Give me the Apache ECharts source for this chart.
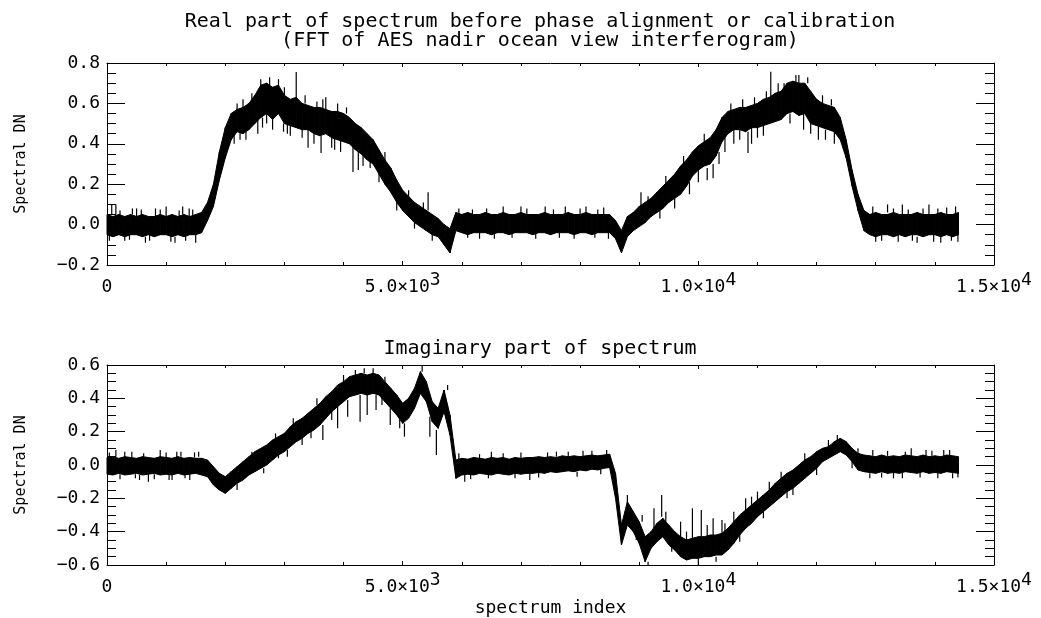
<!DOCTYPE html>
<html><head><meta charset="utf-8">
<script src="https://cdn.jsdelivr.net/npm/echarts@6/dist/echarts.min.js"></script>
<style>html,body{margin:0;padding:0;background:#fff}#c{width:1041px;height:618px}</style>
</head><body><div id="c"></div>
<script>
// ---- data ----
const sampleStep = 100; // spectrum index spacing of the envelope samples
const titleTop = 'Real part of spectrum before phase alignment or calibration\n(FFT of AES nadir ocean view interferogram)';
const titleBottom = 'Imaginary part of spectrum';
const yName = 'Spectral DN';
const xName = 'spectrum index';

// upper / lower edge of the dense noisy trace, one value every 100 spectrum indices
const realUpper = [0.05,0.04,0.05,0.04,0.05,0.04,0.05,0.04,0.04,0.05,0.04,0.05,0.04,0.05,0.04,0.05,
 0.06,0.11,0.20,0.36,0.48,0.55,0.57,0.58,0.60,0.64,
 0.69,0.70,0.68,0.69,0.64,0.62,0.63,0.60,0.59,0.58,
 0.58,0.57,0.56,0.56,0.55,0.53,0.50,0.48,0.45,0.42,
 0.37,0.32,0.28,0.22,0.17,0.14,0.11,0.09,0.07,0.05,
 0.03,0.00,-0.02,0.06,
 0.05,0.06,0.05,0.05,0.06,0.05,0.05,0.06,0.05,0.05,0.06,0.05,0.05,0.05,0.06,0.05,0.05,0.05,0.06,0.05,0.05,0.06,0.05,0.05,0.05,
 0.05,0.02,-0.03,0.04,0.06,0.09,0.11,0.13,0.16,0.19,
 0.22,0.25,0.29,0.32,0.36,0.39,0.41,0.43,0.47,0.53,
 0.56,0.57,0.58,0.58,0.59,0.60,0.62,0.63,0.65,0.66,
 0.70,0.71,0.70,0.70,0.66,0.62,0.60,0.59,0.58,0.53,
 0.42,0.27,0.15,0.07,
 0.05,0.06,0.05,0.05,0.06,0.05,0.05,0.05,0.06,0.05,0.05,0.05,0.06,0.05,0.05,0.06];
const realLower = [-0.05,-0.06,-0.05,-0.06,-0.05,-0.05,-0.06,-0.05,-0.06,-0.05,-0.05,-0.06,-0.05,-0.06,-0.05,-0.05,
 -0.04,0.02,0.09,0.22,0.33,0.42,0.46,0.45,0.47,0.50,
 0.53,0.55,0.52,0.55,0.50,0.49,0.48,0.47,0.47,0.45,
 0.44,0.45,0.43,0.42,0.41,0.40,0.37,0.35,0.32,0.30,
 0.25,0.20,0.16,0.11,0.07,0.04,0.01,-0.01,-0.03,-0.05,
 -0.06,-0.10,-0.14,-0.03,
 -0.04,-0.05,-0.04,-0.04,-0.04,-0.05,-0.04,-0.04,-0.05,-0.04,-0.04,-0.04,-0.05,-0.04,-0.04,-0.05,-0.04,-0.04,-0.04,-0.05,-0.04,-0.04,-0.05,-0.04,-0.04,
 -0.04,-0.07,-0.14,-0.06,-0.03,-0.01,0.01,0.04,0.06,0.08,
 0.11,0.13,0.15,0.19,0.24,0.27,0.29,0.30,0.34,0.41,
 0.45,0.47,0.47,0.46,0.48,0.48,0.49,0.50,0.51,0.52,
 0.55,0.56,0.54,0.55,0.50,0.49,0.48,0.47,0.46,0.42,
 0.33,0.19,0.07,-0.03,
 -0.05,-0.06,-0.05,-0.05,-0.06,-0.05,-0.06,-0.05,-0.05,-0.06,-0.05,-0.05,-0.06,-0.05,-0.06,-0.05];
// isolated noise spikes: [spectrum index, from, to]
const realSpikes = [
 [40,-0.05,-0.08],[80,0.05,0.10],[150,0.05,0.10],[220,0.04,0.07],[300,-0.05,-0.08],[380,-0.05,-0.075],[430,0.05,0.08],
 [500,0.04,0.08],[580,0.04,0.075],[650,-0.06,-0.09],[720,-0.05,-0.08],[820,0.04,0.08],[900,0.05,0.075],
 [1000,0.04,0.09],[1080,-0.05,-0.085],[1150,-0.06,-0.09],[1220,0.04,0.07],[1280,0.05,0.09],[1330,-0.05,-0.08],
 [1390,0.04,0.08],[1450,0.04,0.075],[1500,-0.05,-0.09],
 [2150,0.45,0.40],[2200,0.56,0.60],[2250,0.46,0.42],[2300,0.58,0.62],[2350,0.46,0.42],[2450,0.60,0.65],
 [2550,0.52,0.45],[2600,0.69,0.72],[2630,0.53,0.48],[2700,0.55,0.50],[2750,0.69,0.73],[2800,0.55,0.47],
 [2900,0.66,0.72],[2985,0.50,0.46],[3000,0.64,0.68],[3050,0.50,0.45],[3100,0.50,0.44],[3200,0.63,0.755],
 [3300,0.47,0.43],[3350,0.60,0.64],[3400,0.47,0.38],[3500,0.45,0.40],[3550,0.58,0.61],[3620,0.44,0.355],
 [3650,0.57,0.62],[3700,0.57,0.63],[3800,0.43,0.38],[3850,0.43,0.37],[3900,0.56,0.60],[3950,0.42,0.36],
 [4050,0.55,0.58],[4160,0.39,0.26],[4250,0.37,0.27],[4330,0.35,0.29],[4450,0.32,0.28],[4600,0.25,0.21],
 [4700,0.32,0.36],[4900,0.11,0.07],[5100,0.14,0.17],[5200,0.01,-0.02],[5350,0.08,0.11],[5430,0.07,0.16],
 [5500,-0.05,-0.08],[5950,0.05,0.08],[6100,-0.04,-0.065],[6180,0.05,0.075],[6300,-0.04,-0.07],[6420,0.05,0.08],
 [6550,-0.04,-0.07],[6700,0.05,0.09],[6850,-0.04,-0.065],[7000,0.06,0.09],[7100,0.05,0.08],[7250,-0.04,-0.07],
 [7410,0.05,0.09],[7550,0.05,0.075],[7650,-0.04,-0.065],[7750,0.05,0.09],[7900,-0.04,-0.07],[8000,0.05,0.08],
 [8100,0.06,0.09],[8250,-0.04,-0.065],[8300,0.05,0.075],[8400,0.05,0.085],[8480,-0.04,-0.07],
 [9030,0.09,0.16],[9150,0.11,0.14],[9350,0.07,0.03],[9450,0.20,0.24],[9600,0.13,0.08],[9750,0.30,0.34],
 [9850,0.21,0.15],[10000,0.27,0.21],[10100,0.41,0.45],[10150,0.28,0.22],[10250,0.30,0.23],[10350,0.36,0.30],
 [10450,0.44,0.36],[10550,0.56,0.60],[10600,0.47,0.40],[10700,0.47,0.42],[10750,0.58,0.62],[10840,0.46,0.355],
 [10900,0.48,0.40],[10950,0.59,0.63],[11000,0.48,0.43],[11100,0.50,0.44],[11150,0.62,0.66],[11225,0.62,0.757],
 [11350,0.64,0.70],[11450,0.66,0.70],[11550,0.55,0.50],[11650,0.68,0.74],[11700,0.70,0.74],[11780,0.55,0.47],
 [11850,0.70,0.73],[11900,0.50,0.45],[12030,0.49,0.42],[12100,0.60,0.64],[12150,0.47,0.42],[12250,0.59,0.62],
 [12300,0.46,0.40],[12950,0.05,0.09],[13000,-0.05,-0.085],[13100,-0.05,-0.08],[13200,0.06,0.10],[13300,0.05,0.08],
 [13380,-0.05,-0.085],[13450,0.05,0.10],[13550,0.05,0.075],[13620,-0.05,-0.08],[13700,-0.06,-0.09],[13800,0.05,0.08],
 [13900,0.05,0.10],[13980,-0.05,-0.085],[14050,0.05,0.08],[14100,-0.06,-0.09],[14200,0.05,0.085],[14280,-0.05,-0.08],
 [14350,0.05,0.09],[14390,-0.05,-0.085]
];

const imagUpper = [0.045,0.05,0.04,0.05,0.045,0.04,0.05,0.045,0.04,0.05,0.045,0.04,0.05,0.04,0.045,0.04,0.04,
 0.03,-0.01,-0.05,-0.07,-0.04,-0.01,0.02,0.05,0.08,0.10,
 0.12,0.15,0.17,0.19,0.23,0.26,0.28,0.31,0.34,0.37,
 0.41,0.44,0.48,0.50,0.53,0.54,0.55,0.54,0.55,0.54,
 0.50,0.46,0.42,0.37,0.40,0.46,0.56,0.50,0.38,0.34,
 0.45,0.30,0.03,
 0.04,0.035,0.045,0.04,0.035,0.045,0.04,0.045,0.035,0.045,0.04,0.045,0.045,0.05,0.045,0.05,0.045,0.055,0.05,0.055,0.05,0.055,0.06,0.055,0.06,0.065,
 -0.05,-0.36,-0.22,-0.28,-0.34,-0.43,-0.40,-0.35,-0.32,-0.36,
 -0.40,-0.43,-0.45,-0.44,-0.43,-0.43,-0.42,-0.42,-0.41,-0.38,
 -0.34,-0.30,-0.27,-0.24,-0.21,-0.18,-0.15,-0.11,-0.08,-0.05,
 -0.03,0.00,0.03,0.05,0.08,0.10,0.11,0.14,0.16,0.14,
 0.10,0.07,0.06,
 0.055,0.05,0.06,0.05,0.055,0.05,0.06,0.055,0.05,0.06,0.05,0.055,0.05,0.06,0.055,0.05];
const imagLower = [-0.055,-0.06,-0.05,-0.06,-0.055,-0.05,-0.06,-0.055,-0.05,-0.06,-0.055,-0.06,-0.05,-0.06,-0.055,-0.05,-0.06,
 -0.07,-0.12,-0.15,-0.17,-0.14,-0.11,-0.09,-0.06,-0.04,-0.02,
 0.00,0.03,0.06,0.08,0.11,0.14,0.16,0.19,0.21,0.24,
 0.28,0.32,0.35,0.38,0.41,0.42,0.43,0.42,0.43,0.42,
 0.38,0.34,0.30,0.25,0.28,0.34,0.43,0.38,0.26,0.22,
 0.32,0.18,-0.08,
 -0.06,-0.055,-0.06,-0.05,-0.055,-0.06,-0.05,-0.055,-0.06,-0.05,-0.055,-0.05,-0.05,-0.045,-0.05,-0.04,-0.045,-0.04,-0.035,-0.04,-0.03,-0.035,-0.025,-0.03,-0.02,-0.015,
 -0.20,-0.48,-0.36,-0.40,-0.47,-0.58,-0.50,-0.46,-0.43,-0.48,
 -0.51,-0.55,-0.57,-0.56,-0.56,-0.55,-0.55,-0.54,-0.54,-0.51,
 -0.47,-0.42,-0.38,-0.35,-0.31,-0.28,-0.25,-0.22,-0.19,-0.16,
 -0.14,-0.11,-0.08,-0.05,-0.02,0.02,0.04,0.06,0.08,0.06,
 0.02,-0.03,-0.04,
 -0.045,-0.05,-0.04,-0.05,-0.045,-0.05,-0.04,-0.045,-0.05,-0.04,-0.05,-0.045,-0.05,-0.04,-0.045,-0.05];
const imagSpikes = [
 [40,0.045,0.075],[150,0.05,0.09],[220,-0.055,-0.085],[300,0.045,0.08],[420,0.045,0.08],[480,-0.055,-0.08],
 [550,-0.06,-0.09],[620,0.045,0.07],[700,-0.055,-0.10],[800,-0.055,-0.085],[900,0.045,0.09],[1000,0.045,0.075],
 [1050,-0.055,-0.09],[1100,-0.06,-0.09],[1180,0.045,0.08],[1250,0.05,0.08],[1320,-0.055,-0.08],[1400,-0.055,-0.09],
 [1480,0.045,0.075],[1550,0.05,0.08],[2200,-0.11,-0.15],[2450,0.05,0.08],[2650,-0.02,-0.05],[2850,0.16,0.19],
 [2900,0.08,0.04],[3050,0.09,0.05],[3150,0.24,0.28],[3300,0.16,0.12],[3450,0.20,0.16],[3550,0.36,0.40],
 [3650,0.24,0.15],[3800,0.32,0.27],[3900,0.35,0.22],[4000,0.50,0.54],[4070,0.39,0.29],[4200,0.54,0.57],
 [4280,0.42,0.26],[4350,0.55,0.58],[4400,0.42,0.30],[4500,0.55,0.58],[4550,0.42,0.33],[4650,0.41,0.36],
 [4700,0.50,0.53],[4790,0.34,0.24],[4950,0.29,0.22],[5030,0.25,0.17],[5330,0.56,0.60],[5460,0.29,0.17],
 [5570,0.21,0.06],[5760,0.45,0.48],[5950,0.035,0.07],[6050,-0.05,-0.10],[6150,-0.055,-0.085],[6300,0.035,0.065],
 [6450,-0.055,-0.08],[6500,0.04,0.08],[6700,0.04,0.07],[6900,-0.05,-0.08],[7000,0.04,0.075],[7150,-0.05,-0.09],
 [7300,-0.045,-0.075],[7450,0.045,0.075],[7600,0.05,0.08],[7800,0.05,0.08],[7950,-0.04,-0.07],[8050,0.05,0.085],
 [8200,0.05,0.085],[8350,-0.025,-0.055],[8450,0.06,0.09],[8800,-0.22,-0.18],[8950,-0.40,-0.45],[9050,-0.34,-0.30],
 [9150,-0.58,-0.60],[9250,-0.38,-0.26],[9380,-0.31,-0.18],[9450,-0.34,-0.28],[9550,-0.48,-0.52],[9700,-0.43,-0.34],
 [9800,-0.45,-0.40],[9900,-0.44,-0.26],[10000,-0.56,-0.60],[10050,-0.43,-0.27],[10150,-0.43,-0.36],[10250,-0.42,-0.32],
 [10300,-0.55,-0.58],[10400,-0.41,-0.33],[10450,-0.40,-0.35],[10600,-0.34,-0.28],[10700,-0.42,-0.46],[10800,-0.27,-0.20],
 [10900,-0.24,-0.19],[11000,-0.21,-0.16],[11100,-0.28,-0.32],[11200,-0.15,-0.10],[11400,-0.08,-0.04],[11500,-0.16,-0.20],
 [11600,-0.14,-0.18],[11800,0.03,0.07],[12000,-0.02,-0.06],[12200,0.11,0.15],[12350,0.15,0.18],[12600,0.02,-0.02],
 [12700,0.07,0.10],[12900,-0.05,-0.08],[12950,0.055,0.09],[13100,-0.045,-0.075],[13200,0.055,0.085],[13300,-0.045,-0.08],
 [13450,-0.045,-0.08],[13500,0.055,0.08],[13600,0.055,0.10],[13750,-0.045,-0.075],[13850,0.05,0.09],[13950,0.055,0.085],
 [14050,-0.045,-0.08],[14150,0.055,0.09],[14250,0.055,0.09],[14300,-0.05,-0.08],[14390,-0.045,-0.075]
];

// ---- chart ----
const FONT = '"DejaVu Sans Mono", monospace';
const idx = realUpper.map((_, i) => i * sampleStep);

function yFmt(v) {
  return (v < -1e-9 ? '\u2212' : '') + Math.abs(v).toFixed(1);
}
function xFmt(v) {
  if (v === 0) return '{n|0}';
  const e = Math.floor(Math.log10(v) + 1e-9);
  const m = (v / Math.pow(10, e)).toFixed(1);
  return '{n|' + m + '\u00d710}{s|' + e + '}';
}
const axisLineStyle = { color: '#000', width: 1 };
function xAxisDef(grid, pos, labels, name) {
  return {
    type: 'value', gridIndex: grid, position: pos, min: 0, max: 15000, interval: 5000, z: 10,
    axisLine: { show: true, onZero: false, lineStyle: axisLineStyle },
    axisTick: { show: true, inside: true, length: 4, lineStyle: axisLineStyle },
    minorTick: { show: true, splitNumber: 5, length: 3, lineStyle: axisLineStyle },
    splitLine: { show: false }, minorSplitLine: { show: false },
    axisLabel: labels ? {
      show: true, margin: 6, formatter: xFmt, color: '#000',
      rich: {
        n: { fontFamily: FONT, fontSize: 18, color: '#000', verticalAlign: 'bottom', padding: [7, 0, 0, 0] },
        s: { fontFamily: FONT, fontSize: 18, color: '#000', verticalAlign: 'bottom', padding: [0, 0, 7, 0] }
      }
    } : { show: false },
    name: name || '', nameLocation: 'middle', nameGap: 34,
    nameTextStyle: { fontFamily: FONT, fontSize: 18, color: '#000' }
  };
}
function yAxisDef(grid, pos, min, max, labels, name) {
  return {
    type: 'value', gridIndex: grid, position: pos, min: min, max: max, interval: 0.2, z: 10,
    axisLine: { show: true, onZero: false, lineStyle: axisLineStyle },
    axisTick: { show: true, inside: true, length: 18, lineStyle: axisLineStyle },
    minorTick: { show: true, splitNumber: 4, length: 9, lineStyle: axisLineStyle },
    splitLine: { show: false }, minorSplitLine: { show: false },
    axisLabel: labels ? { show: true, margin: 7, formatter: yFmt, color: '#000', fontFamily: FONT, fontSize: 18 } : { show: false },
    name: name || '', nameLocation: 'middle', nameGap: 78, nameRotate: 90,
    nameTextStyle: { fontFamily: FONT, fontSize: 15, color: '#000' }
  };
}
// dense noisy trace drawn as a filled band between its lower and upper edges
function bandSeries(xi, yi, up, lo) {
  const rows = idx.map((x, i) => [x, lo[i], up[i]]);
  return {
    type: 'custom', xAxisIndex: xi, yAxisIndex: yi, z: 3, silent: true, data: rows,
    dimensions: ['x', 'lower', 'upper'], encode: { x: 0, y: [1, 2] },
    renderItem: function (params, api) {
      const i = params.dataIndex;
      if (i >= rows.length - 1) return null;
      const a = rows[i], b = rows[i + 1];
      const pts = [
        api.coord([a[0], a[2]]), api.coord([b[0], b[2]]),
        api.coord([b[0], b[1]]), api.coord([a[0], a[1]])
      ];
      return { type: 'polygon', shape: { points: pts },
        style: { fill: '#000', stroke: '#000', lineWidth: 1 } };
    }
  };
}
function spikeSeries(xi, yi, data) {
  return {
    type: 'custom', xAxisIndex: xi, yAxisIndex: yi, z: 4, silent: true, data: data,
    dimensions: ['x', 'from', 'to'], encode: { x: 0, y: [1, 2] },
    renderItem: function (params, api) {
      const p1 = api.coord([api.value(0), api.value(1)]);
      const p2 = api.coord([api.value(0), api.value(2)]);
      return { type: 'line', shape: { x1: p1[0], y1: p1[1], x2: p2[0], y2: p2[1] },
        style: { stroke: '#000', lineWidth: 1.2 } };
    }
  };
}

const chart = echarts.init(document.getElementById('c'), null, { renderer: 'canvas' });
chart.setOption({
  animation: false,
  backgroundColor: '#fff',
  grid: [
    { left: 107, right: 47, top: 63, height: 202 },
    { left: 107, right: 47, top: 365, height: 202 }
  ],
  xAxis: [
    xAxisDef(0, 'bottom', true), xAxisDef(0, 'top', false),
    xAxisDef(1, 'bottom', true, xName), xAxisDef(1, 'top', false)
  ],
  yAxis: [
    yAxisDef(0, 'left', -0.2, 0.8, true, yName), yAxisDef(0, 'right', -0.2, 0.8, false),
    yAxisDef(1, 'left', -0.6, 0.6, true, yName), yAxisDef(1, 'right', -0.6, 0.6, false)
  ],
  graphic: [
    { type: 'text', x: 540, y: 12, silent: true,
      style: { text: titleTop, fill: '#000', fontFamily: FONT, fontSize: 20, lineHeight: 19, align: 'center', verticalAlign: 'top' } },
    { type: 'text', x: 540, y: 339, silent: true,
      style: { text: titleBottom, fill: '#000', fontFamily: FONT, fontSize: 20, lineHeight: 19, align: 'center', verticalAlign: 'top' } }
  ],
  series: [
    bandSeries(0, 0, realUpper, realLower),
    spikeSeries(0, 0, realSpikes),
    bandSeries(2, 2, imagUpper, imagLower),
    spikeSeries(2, 2, imagSpikes)
  ]
});
</script>
</body></html>
